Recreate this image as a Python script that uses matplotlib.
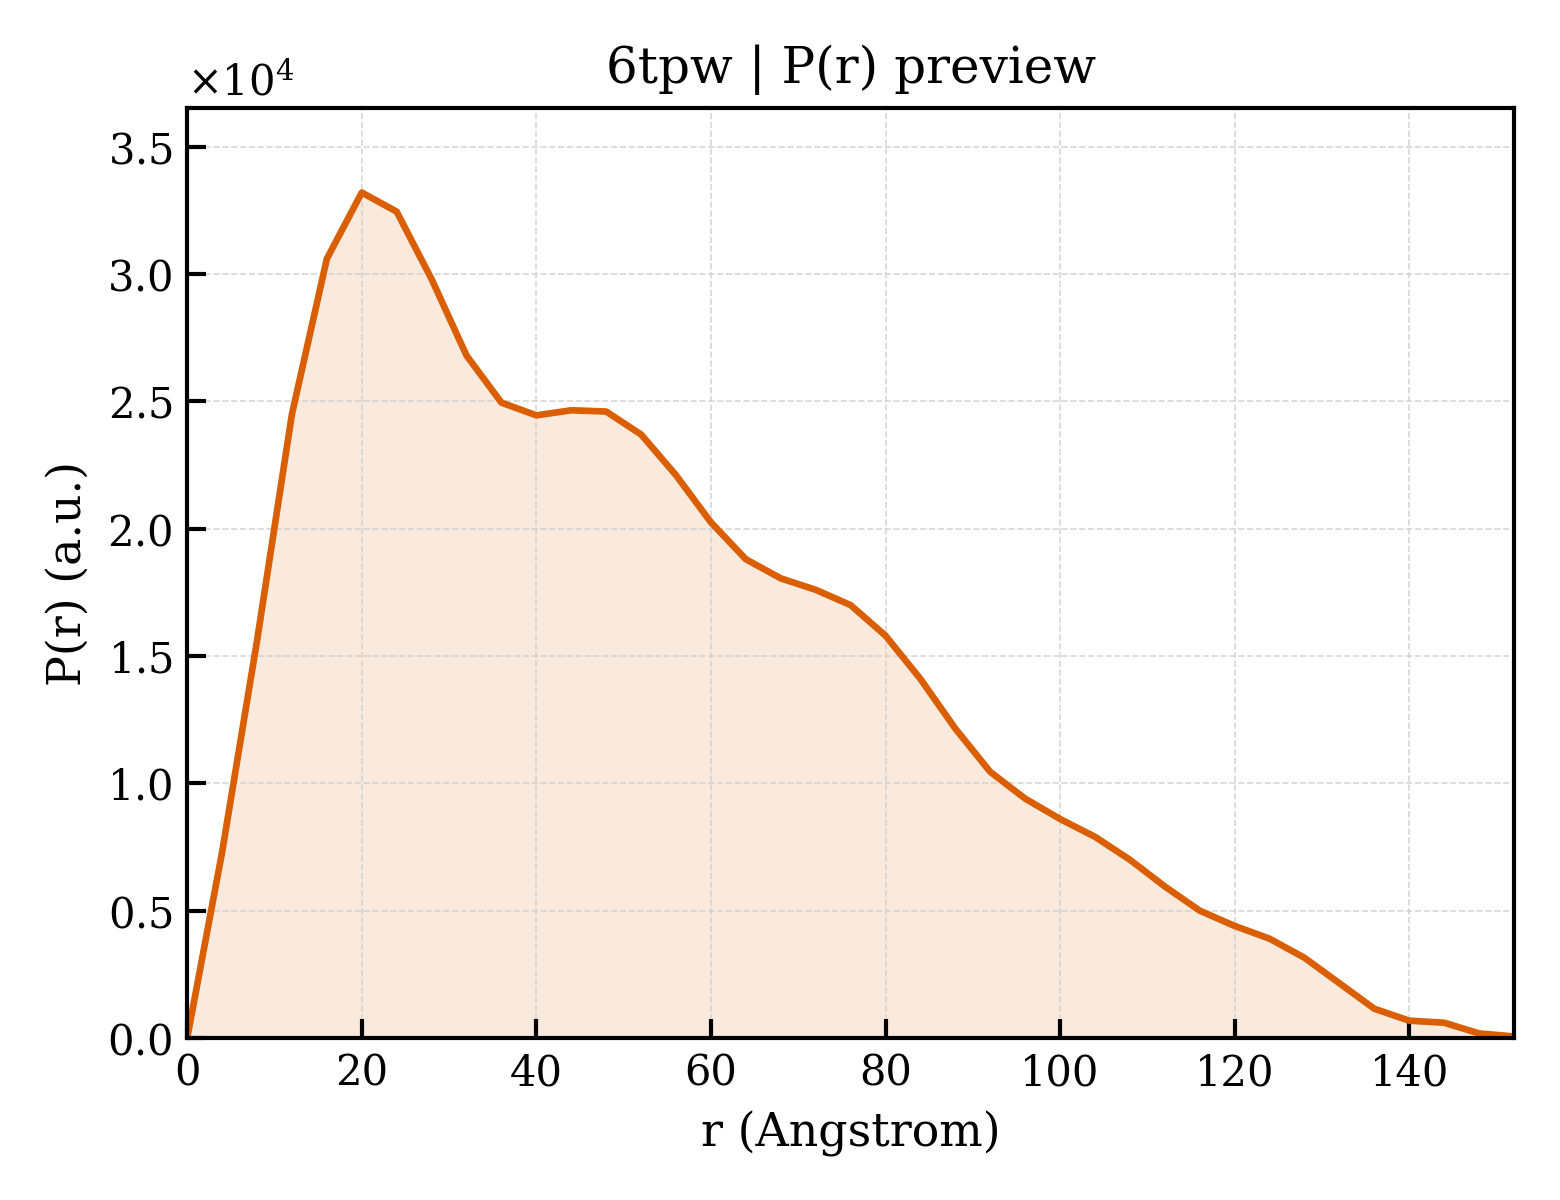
import numpy as np
import matplotlib
matplotlib.use("Agg")
from matplotlib import pyplot as plt

r = [0, 4, 8, 12, 16, 20, 24, 28, 32, 36, 40, 44, 48, 52, 56, 60, 64, 68, 72, 76,
     80, 84, 88, 92, 96, 100, 104, 108, 112, 116, 120, 124, 128, 132, 136, 140,
     144, 148, 152]
pr = [0, 7300, 15600, 24500, 30600, 33200, 32450, 29800, 26800, 24950, 24450,
      24650, 24600, 23700, 22100, 20250, 18800, 18050, 17600, 17000, 15800,
      14100, 12150, 10450, 9400, 8600, 7900, 7000, 5950, 5000, 4400, 3900, 3150,
      2150, 1150, 680, 600, 180, 60]

title = "6tpw | P(r) preview"
col = "#d95f02"

plt.rcParams['font.family'] = ['DejaVu Serif']
plt.rcParams['mathtext.fontset'] = 'dejavuserif'

fig = plt.figure(figsize=(5.2, 4), dpi=300)
ax = fig.add_axes([0.12, 0.135, 0.8505, 0.775])

ax.fill_between(r, pr, 0, color=col, alpha=0.13, linewidth=0)
ax.plot(r, pr, color=col, linewidth=1.6)

ax.set_xlim(0, 152)
ax.set_ylim(0, max(pr) * 1.1)
ax.ticklabel_format(style='sci', axis='y', scilimits=(0, 0), useMathText=True)
ax.yaxis.get_offset_text().set_fontsize(10)

ax.grid(True, linestyle='--', linewidth=0.4, color='#cccccc', alpha=0.8)
ax.tick_params(direction='in', length=4.5, width=1, labelsize=10)
for s in ax.spines.values():
    s.set_linewidth(1)

ax.set_xlabel("r (Angstrom)", fontsize=11)
ax.set_ylabel("P(r) (a.u.)", fontsize=11)
ax.set_title(title, fontsize=12)

fig.savefig("out.png", dpi=300)
